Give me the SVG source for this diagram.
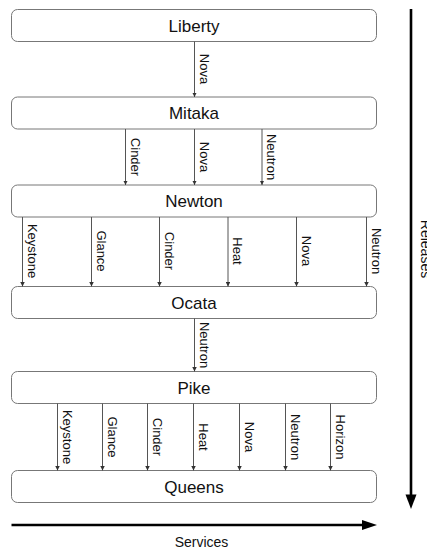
<svg xmlns="http://www.w3.org/2000/svg" width="427" height="550" viewBox="0 0 427 550">
<style>
.box{fill:#fff;stroke:#777;stroke-width:1}
.bl{font-family:"Liberation Sans",Arial,sans-serif;font-size:17px;fill:#111;text-anchor:middle}
.c{stroke:#555;stroke-width:1;fill:none;marker-end:url(#ah)}
.el{font-family:"Liberation Sans",Arial,sans-serif;font-size:13px;fill:#111;text-anchor:middle}
.ax{stroke:#000;stroke-width:2.6;fill:none}
.axl{font-family:"Liberation Sans",Arial,sans-serif;font-size:14px;fill:#111;text-anchor:middle}
</style>
<defs>
<marker id="ah" viewBox="0 0 8 8" markerUnits="userSpaceOnUse" markerWidth="4.5" markerHeight="4.5" refX="8" refY="4" orient="auto">
<path d="M0,0 L8,4 L0,8 z" fill="#333"/>
</marker>
</defs>
<g id="liberty"><rect class="box" x="11.5" y="9.5" width="365" height="32" rx="6"/><text class="bl" x="194" y="31.5">Liberty</text></g>
<g id="mitaka"><rect class="box" x="11.5" y="97" width="365" height="32" rx="6"/><text class="bl" x="194" y="119">Mitaka</text></g>
<g id="newton"><rect class="box" x="11.5" y="185" width="365" height="32" rx="6"/><text class="bl" x="194" y="207">Newton</text></g>
<g id="ocata"><rect class="box" x="11.5" y="286.5" width="365" height="32" rx="6"/><text class="bl" x="194" y="308.5">Ocata</text></g>
<g id="pike"><rect class="box" x="11.5" y="371.5" width="365" height="32" rx="6"/><text class="bl" x="194" y="393.5">Pike</text></g>
<g id="queens"><rect class="box" x="11.5" y="470.5" width="365" height="32" rx="6"/><text class="bl" x="194" y="492.5">Queens</text></g>
<g id="connectors">
<path class="c" d="M194.5,41.5 V97"/>
<path class="c" d="M125.5,129 V185"/>
<path class="c" d="M194.5,129 V185"/>
<path class="c" d="M262,129 V185"/>
<path class="c" d="M22.5,217 V286.5"/>
<path class="c" d="M91.5,217 V286.5"/>
<path class="c" d="M159.5,217 V286.5"/>
<path class="c" d="M228,217 V286.5"/>
<path class="c" d="M296.5,217 V286.5"/>
<path class="c" d="M366.5,217 V286.5"/>
<path class="c" d="M194.5,318.5 V371.5"/>
<path class="c" d="M57.5,403.5 V470.5"/>
<path class="c" d="M102.5,403.5 V470.5"/>
<path class="c" d="M147.5,403.5 V470.5"/>
<path class="c" d="M193.5,403.5 V470.5"/>
<path class="c" d="M239.5,403.5 V470.5"/>
<path class="c" d="M285.5,403.5 V470.5"/>
<path class="c" d="M330.5,403.5 V470.5"/>
<g class="el">
<text transform="translate(199.5,69) rotate(90)">Nova</text>
<text transform="translate(130.5,157) rotate(90)">Cinder</text>
<text transform="translate(199.5,157) rotate(90)">Nova</text>
<text transform="translate(267,157) rotate(90)">Neutron</text>
<text transform="translate(27.5,251) rotate(90)">Keystone</text>
<text transform="translate(96.5,251) rotate(90)">Glance</text>
<text transform="translate(164.5,251) rotate(90)">Cinder</text>
<text transform="translate(233,251) rotate(90)">Heat</text>
<text transform="translate(301.5,251) rotate(90)">Nova</text>
<text transform="translate(371.5,251) rotate(90)">Neutron</text>
<text transform="translate(199.5,345) rotate(90)">Neutron</text>
<text transform="translate(62.5,437) rotate(90)">Keystone</text>
<text transform="translate(107.5,437) rotate(90)">Glance</text>
<text transform="translate(152.5,437) rotate(90)">Cinder</text>
<text transform="translate(198.5,437) rotate(90)">Heat</text>
<text transform="translate(244.5,437) rotate(90)">Nova</text>
<text transform="translate(290.5,437) rotate(90)">Neutron</text>
<text transform="translate(335.5,437) rotate(90)">Horizon</text>
</g>
</g>
<g id="axes">
<path class="ax" d="M11.5,525 H364"/>
<path d="M362,520 L377,525 L362,530 z" fill="#000"/>
<text class="axl" x="201.5" y="546.5">Services</text>
<path class="ax" d="M411,9 V496"/>
<path d="M405.5,494.5 L411,509 L416.5,494.5 z" fill="#000"/>
<text class="axl" transform="translate(420.5,249) rotate(90)">Releases</text>
</g>
</svg>
